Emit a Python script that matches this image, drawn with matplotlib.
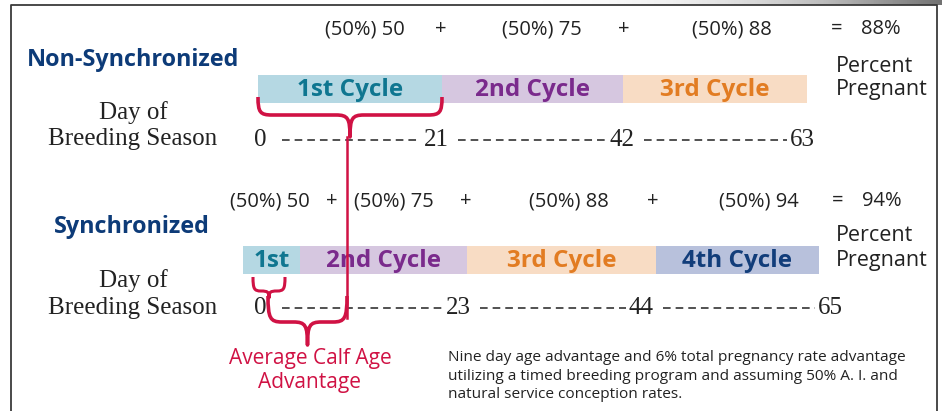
import matplotlib

matplotlib.use("Agg")
import matplotlib.pyplot as plt
import numpy as np
from matplotlib.patches import PathPatch
from matplotlib.path import Path

# data
conception_rate = 50
nonsync_cycles = ["1st Cycle", "2nd Cycle", "3rd Cycle"]
nonsync_pregnant = [50, 75, 88]
nonsync_total = 88
nonsync_days = [0, 21, 42, 63]

sync_cycles = ["1st", "2nd Cycle", "3rd Cycle", "4th Cycle"]
sync_pregnant = [50, 75, 88, 94]
sync_total = 94
sync_days = [0, 23, 44, 65]

advantage_label = "Average Calf Age\nAdvantage"
note_text = (
    "Nine day age advantage and 6% total pregnancy rate advantage\n"
    "utilizing a timed breeding program and assuming 50% A. I. and\n"
    "natural service conception rates."
)

# layout (pixel coordinates of the 942x411 canvas)
W, H = 942, 411
SANS = "Open Sans"
SERIF = "Liberation Serif"
NAVY = "#0d3b78"
RED = "#d01244"
TEXT = "#222222"

cycle_text_colors = ["#0f7690", "#7a2a8c", "#e27c22", "#123d7a"]
cycle_bar_colors = ["#b5d8e3", "#d6c7e0", "#f8dcc4", "#b8c1dc"]

rows = [
    dict(
        title="Non-Synchronized", title_xy=(133, 60),
        cycles=nonsync_cycles, pregnant=nonsync_pregnant, total=nonsync_total, days=nonsync_days,
        bar_edges=[258, 442, 623, 807], bar_y=(75, 103),
        term_x=[365, 542, 732], plus_x=[441, 624], eq_x=837, total_x=881, eq_y=29,
        day_x=[260, 436, 622, 802], day_y=139, label_y=(113, 139), pp_y=(67, 90),
    ),
    dict(
        title="Synchronized", title_xy=(132, 227),
        cycles=sync_cycles, pregnant=sync_pregnant, total=sync_total, days=sync_days,
        bar_edges=[243, 300, 467, 656, 819], bar_y=(246, 274),
        term_x=[270, 394, 569, 759], plus_x=[332, 466, 653], eq_x=838, total_x=882, eq_y=201,
        day_x=[260, 458, 641, 830], day_y=307, label_y=(281, 308), pp_y=(235, 260),
    ),
]

plt.rcParams["lines.scale_dashes"] = False

fig = plt.figure(figsize=(W / 100, H / 100), dpi=100)
ax = fig.add_axes([0, 0, 1, 1])
ax.set_xlim(0, W)
ax.set_ylim(H, 0)
ax.axis("off")

# photo strip above the frame and the frame itself
grad = np.linspace(0, 1, 200)[None, :] ** 1.5
ax.imshow(grad, cmap="Greys", extent=(530, W, 5, 0), aspect="auto", vmin=0, vmax=1.6, zorder=0)
ax.plot([11, 11, 937, 937], [H, 5, 5, H], color="#3a3a3a", lw=1.3, zorder=1)


def brace(x0, x1, y0, y1, y2, tip=None, lw=2.6):
    xm = (x0 + x1) / 2 if tip is None else tip
    r = min(14, (xm - x0) / 2, (x1 - xm) / 2)
    verts = [
        (x0, y0),
        (x0, y0 + 0.85 * (y1 - y0)), (x0 + 0.15 * r, y1), (x0 + r, y1),
        (xm - r, y1),
        (xm - 0.15 * r, y1), (xm, y1 + 0.15 * (y2 - y1)), (xm, y2),
        (xm, y1 + 0.15 * (y2 - y1)), (xm + 0.15 * r, y1), (xm + r, y1),
        (x1 - r, y1),
        (x1 - 0.15 * r, y1), (x1, y0 + 0.85 * (y1 - y0)), (x1, y0),
    ]
    codes = [Path.MOVETO] + [Path.CURVE4] * 3 + [Path.LINETO] + [Path.CURVE4] * 6 + [Path.LINETO] + [Path.CURVE4] * 3
    ax.add_patch(PathPatch(Path(verts, codes), fill=False, edgecolor=RED, lw=lw,
                           capstyle="butt", joinstyle="round", zorder=4))


for row in rows:
    ax.text(*row["title_xy"], row["title"], family=SANS, weight="bold", fontsize=16.8,
            color=NAVY, ha="center", va="center")

    # cycle bars
    edges = row["bar_edges"]
    y_top, y_bot = row["bar_y"]
    for i, label in enumerate(row["cycles"]):
        ax.barh((y_top + y_bot) / 2, edges[i + 1] - edges[i], left=edges[i], height=y_bot - y_top,
                color=cycle_bar_colors[i], edgecolor="none", zorder=2)
        ax.text((edges[i] + edges[i + 1]) / 2, (y_top + y_bot) / 2 + 1, label, family=SANS,
                weight="bold", fontsize=17.5, color=cycle_text_colors[i], ha="center", va="center", zorder=3)

    # pregnancy equation
    ey = row["eq_y"]
    for x, val in zip(row["term_x"], row["pregnant"]):
        ax.text(x, ey, f"({conception_rate}%) {val}", family=SANS, fontsize=14.5, color=TEXT,
                ha="center", va="center")
    for x in row["plus_x"]:
        ax.text(x, ey, "+", family=SANS, fontsize=14.5, color=TEXT, ha="center", va="center")
    ax.text(row["eq_x"], ey, "=", family=SANS, fontsize=14.5, color=TEXT, ha="center", va="center")
    ax.text(row["total_x"], ey, f"{row['total']}%", family=SANS, fontsize=14.5, color=TEXT,
            ha="center", va="center")

    p1, p2 = row["pp_y"]
    ax.text(836, p1, "Percent", family=SANS, fontsize=15.5, color=TEXT, ha="left", va="center")
    ax.text(836, p2, "Pregnant", family=SANS, fontsize=15.5, color=TEXT, ha="left", va="center")

    # day of breeding season
    l1, l2 = row["label_y"]
    ax.text(133, l1, "Day of", family=SERIF, fontsize=18, color=TEXT, ha="center", va="center")
    ax.text(133, l2, "Breeding Season", family=SERIF, fontsize=18, color=TEXT, ha="center", va="center")

    dx = row["day_x"]
    dy = row["day_y"]
    for x, d in zip(dx, row["days"]):
        ax.text(x, dy + 1, str(d), family=SERIF, fontsize=18, color=TEXT, ha="center", va="center")
    for a, b in zip(dx[:-1], dx[1:]):
        ax.plot([a + 22, b - 15], [dy + 1, dy + 1], color=TEXT, lw=1.1, dashes=(5.5, 3.6),
                solid_capstyle="butt", zorder=2)

# braces and connector
top = rows[0]
brace(top["bar_edges"][0], top["bar_edges"][1], 97, 115, 137)
ax.plot([347, 347], [137, 318], color=RED, lw=1.8, zorder=4)
brace(253, 285, 277, 291, 298, lw=2.2)
brace(268, 347, 296, 322, 345, lw=2.6)

ax.text(310, 358, advantage_label.split("\n")[0], family=SANS, fontsize=15, color=RED,
        ha="center", va="center")
ax.text(310, 382, advantage_label.split("\n")[1], family=SANS, fontsize=15, color=RED,
        ha="center", va="center")

ax.text(448, 376, note_text, family=SANS, fontsize=11.1, color=TEXT, ha="left", va="center",
        linespacing=1.35)

fig.savefig("out.png", dpi=100)
